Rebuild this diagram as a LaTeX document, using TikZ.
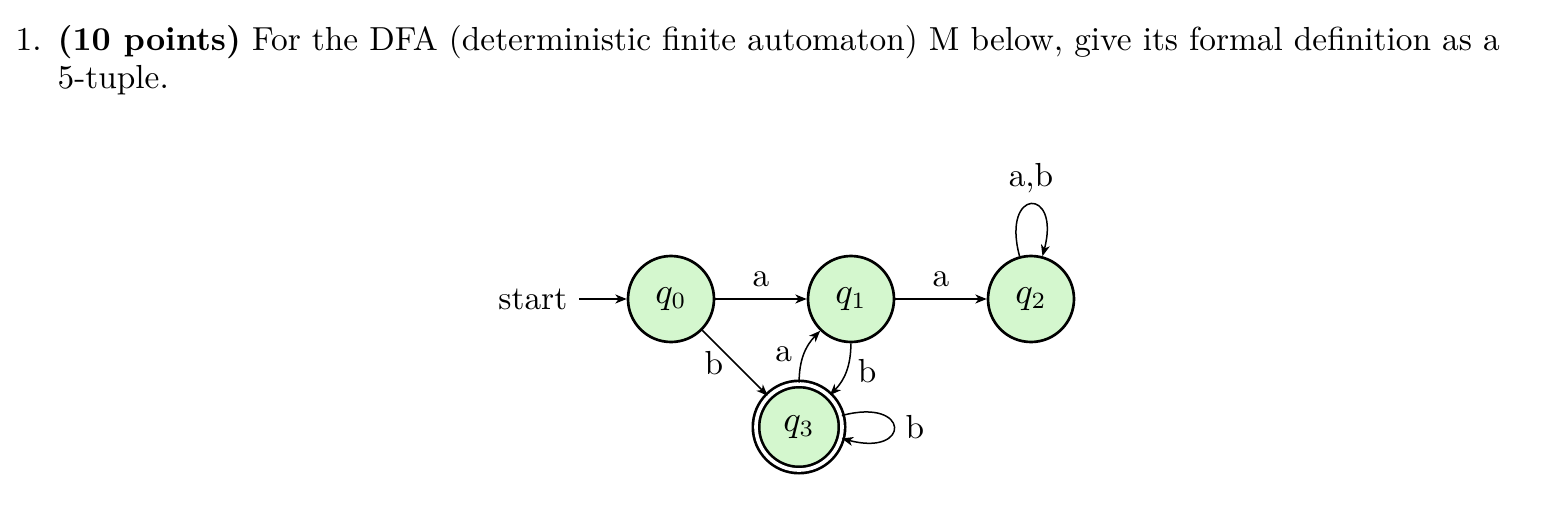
\documentclass[tikz,border=0pt]{standalone}
\usetikzlibrary{arrows.meta}
\definecolor{stfill}{RGB}{212,247,206}
\begin{document}
\begin{tikzpicture}[x=0.3pt,y=-0.3pt,
  font=\fontsize{10}{11.4}\selectfont,
  >={Stealth[length=3.4pt,width=2.7pt,inset=1pt]},
  state/.style={circle,draw,thick,fill=stfill,minimum size=25.8pt,inner sep=0pt,font=\fontsize{10.5}{12}\selectfont},
  accept/.style={double,double distance=1.1pt},
  edgeline/.style={->,line width=0.45pt}]
\useasboundingbox (0,0) rectangle (1566,510);
\node[anchor=base west,inner sep=0pt,align=left] (title) at (15,88)
  {\makebox[12.6pt][l]{1.}\textbf{(10 points)} For the DFA (deterministic finite automaton) M below, give its formal definition as a\\
   \hspace*{12.6pt}5-tuple.};
\node[state] (q0) at (671,299) {$q_0$};
\node[state] (q1) at (851,299) {$q_1$};
\node[state] (q2) at (1031,299) {$q_2$};
\node[state,accept] (q3) at (799,427) {$q_3$};
\node[anchor=east] (start) at (579,299) {start};
\draw[edgeline] (start) -- (q0);
\draw[edgeline] (q0) -- node[above] {a} (q1);
\draw[edgeline] (q1) -- node[above] {a} (q2);
\draw[edgeline] (q0) -- node[left] {b} (q3);
\draw[edgeline] (q3) to[bend left=22] node[left] {a} (q1);
\draw[edgeline] (q1) to[bend left=22] node[right] {b} (q3);
\draw[edgeline] (q2) to[loop above] node[above] {a,b} (q2);
\draw[edgeline] (q3) to[loop right] node[right] {b} (q3);
\end{tikzpicture}
\end{document}
